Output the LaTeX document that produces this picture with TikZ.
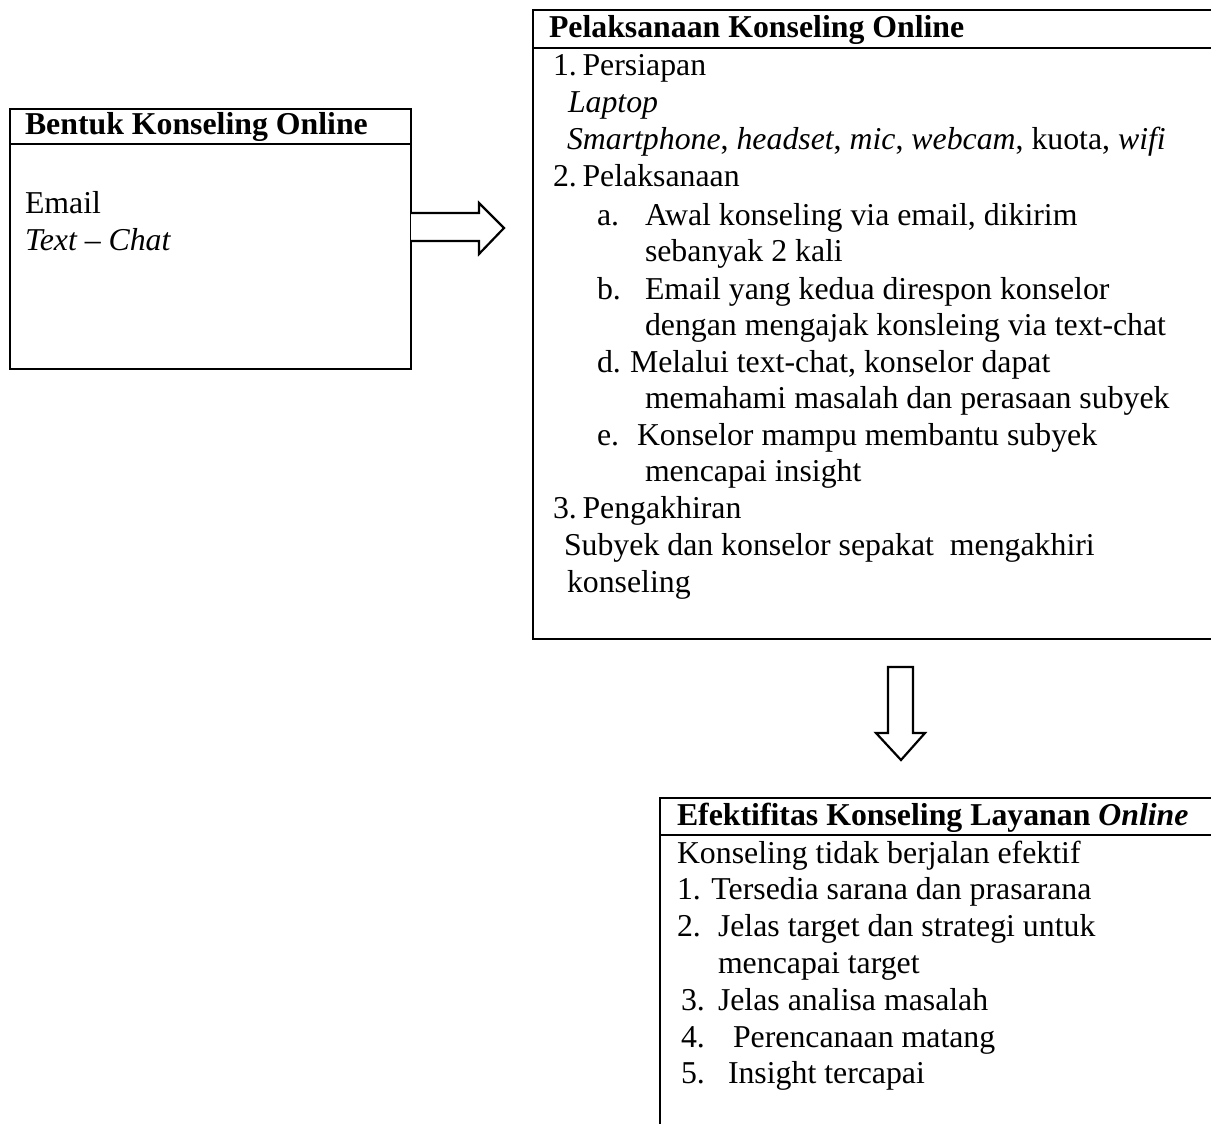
\documentclass[tikz,border=0pt]{standalone}
\usepackage{fontspec}
\setmainfont{Liberation Serif}
\begin{document}
\begin{tikzpicture}[x=1pt,y=-1pt,
  frame/.style={line width=2.5pt,line join=miter},
  blockarrow/.style={line width=2.2pt,line join=miter,fill=white},
  txt/.style={anchor=base west,inner sep=0pt,outer sep=0pt,
    font=\fontsize{31.8}{36.9}\selectfont},
  ttl/.style={txt,font=\fontsize{31.8}{36.9}\selectfont\bfseries}]
\useasboundingbox (0,0) rectangle (1211,1124);

% ---- left box: forms of online counselling
\coordinate (bNW) at (10,109);
\coordinate (bSE) at (411,369);
\draw[frame] (bNW) rectangle (bSE);
\draw[frame] (10,144) -- (411,144);
\node[ttl] (bTitle) at (25,135) {Bentuk Konseling Online};
\node[txt] (bEmail) at (25,213) {Email};
\node[txt] (bChat) at (25,250) {\itshape Text -- Chat};

% ---- upper right box: implementation
\draw[frame] (1216,10) -- (533,10) -- (533,639) -- (1216,639);
\draw[frame] (533,48) -- (1216,48);
\node[ttl] (pTitle) at (549,38) {Pelaksanaan Konseling Online};
\node[txt] (p1) at (553,76) {1.\hspace{0.18em}Persiapan};
\node[txt] (p1a) at (568,112) {\itshape Laptop};
\node[txt] (p1b) at (567,149) {\itshape Smartphone\upshape, \itshape headset\upshape, \itshape mic\upshape, \itshape webcam\upshape, kuota, \itshape wifi};
\node[txt] (p2) at (553,186) {2.\hspace{0.18em}Pelaksanaan};
\node[txt] (pa) at (597,225) {a.};
\node[txt] (paT) at (645,225) {Awal konseling via email, dikirim};
\node[txt] (paT2) at (645,261) {sebanyak 2 kali};
\node[txt] (pb) at (597,299) {b.};
\node[txt] (pbT) at (645,299) {Email yang kedua direspon konselor};
\node[txt] (pbT2) at (645,335) {dengan mengajak konsleing via text-chat};
\node[txt] (pd) at (597,372) {d.};
\node[txt] (pdT) at (630,372) {Melalui text-chat, konselor dapat};
\node[txt] (pdT2) at (645,408) {memahami masalah dan perasaan subyek};
\node[txt] (pe) at (597,445) {e.};
\node[txt] (peT) at (637,445) {Konselor mampu membantu subyek};
\node[txt] (peT2) at (645,481) {mencapai insight};
\node[txt] (p3) at (553,518) {3.\hspace{0.18em}Pengakhiran};
\node[txt] (p3a) at (564,555) {Subyek dan konselor sepakat\ \ mengakhiri};
\node[txt] (p3b) at (567,592) {konseling};

% ---- lower right box: effectiveness
\draw[frame] (660,1130) -- (660,798) -- (1216,798);
\draw[frame] (660,835) -- (1216,835);
\node[ttl] (eTitle) at (677,825) {Efektifitas Konseling Layanan \textit{Online}};
\node[txt] (e0) at (677,863) {Konseling tidak berjalan efektif};
\node[txt] (e1) at (677,899) {1. Tersedia sarana dan prasarana};
\node[txt] (e2) at (677,936) {2.};
\node[txt] (e2T) at (718,936) {Jelas target dan strategi untuk};
\node[txt] (e2T2) at (718,973) {mencapai target};
\node[txt] (e3) at (681,1010) {3.};
\node[txt] (e3T) at (718,1010) {Jelas analisa masalah};
\node[txt] (e4) at (681,1047) {4.};
\node[txt] (e4T) at (733,1047) {Perencanaan matang};
\node[txt] (e5) at (681,1083) {5.};
\node[txt] (e5T) at (728,1083) {Insight tercapai};

% ---- block arrows between the boxes
\draw[blockarrow] (411,213) -- (479,213) -- (479,203) -- (504,228)
  -- (479,254) -- (479,241) -- (411,241);
\draw[blockarrow] (888,667) -- (913,667) -- (913,733) -- (925,733)
  -- (901,760) -- (876,733) -- (888,733) -- cycle;
\end{tikzpicture}
\end{document}
